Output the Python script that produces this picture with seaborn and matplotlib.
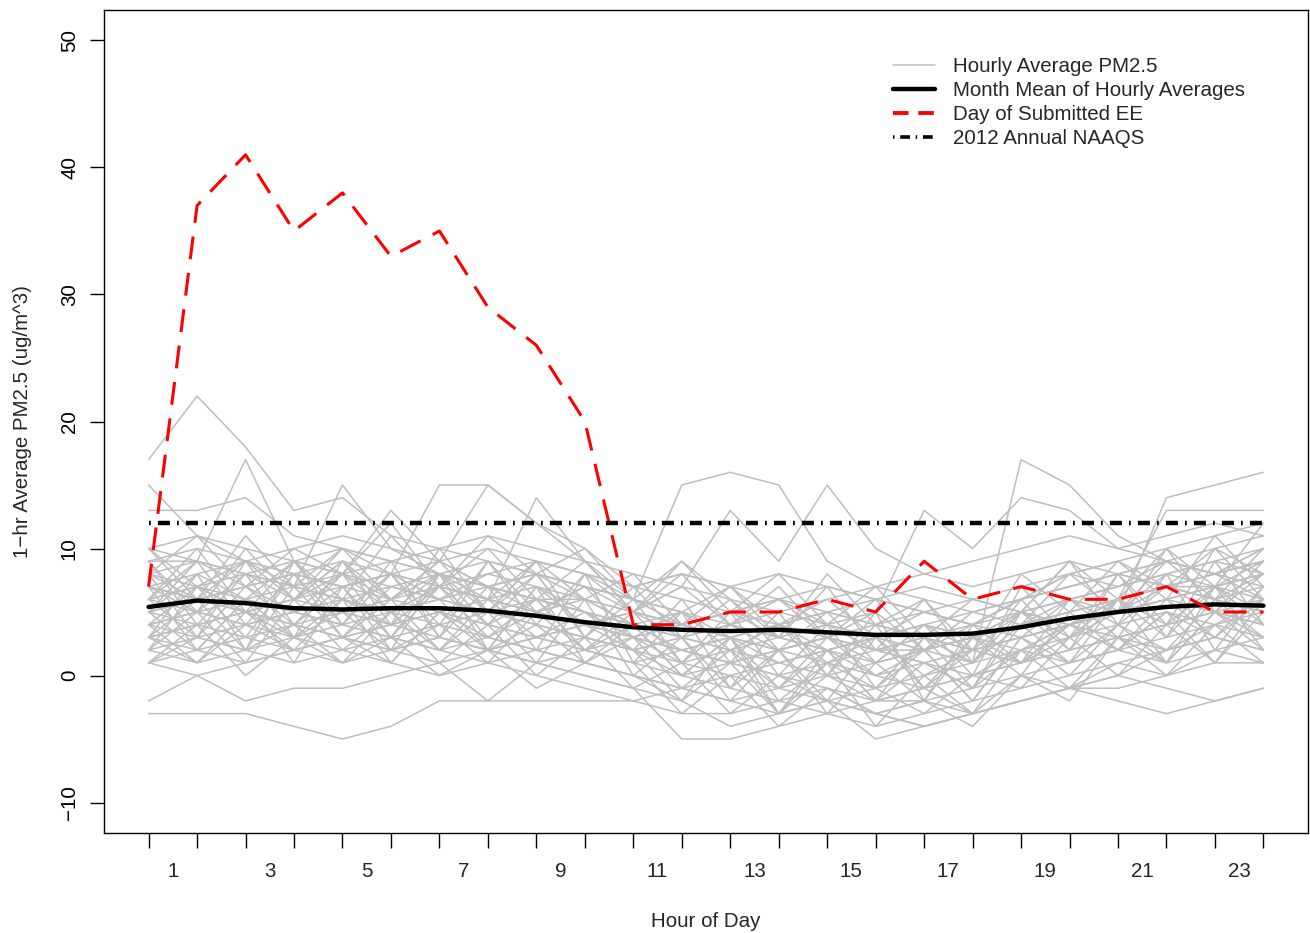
import numpy as np
import pandas as pd
import matplotlib
matplotlib.use('Agg')
import matplotlib.pyplot as plt
from matplotlib.lines import Line2D
import seaborn as sns

sns.set_style('white')
plt.rcParams['font.family'] = ['Liberation Sans', 'DejaVu Sans']

#hours of the day (0-23)
hours = list(range(24))

#hourly averages, one list per day
day_values = [
    [17, 22, 18, 13, 14, 11, 10, 9, 8, 7, 5, 4, 3, 4, 5, 4, 3, 4, 6, 7, 8, 9, 10, 11],
    [15, 11, 9, 8, 7, 8, 6, 5, 6, 5, 3, 2, 1, 2, 3, 2, 2, 3, 5, 6, 7, 8, 9, 8],
    [13, 13, 14, 11, 10, 9, 8, 7, 6, 6, 4, 3, 2, 3, 2, 1, 2, 3, 4, 5, 6, 7, 7, 8],
    [-3, -3, -3, -4, -5, -4, -2, -2, -2, -2, -2, -3, -3, -2, -1, -2, -2, -3, -2, -1, -1, 0, 1, 1],
    [-2, 0, -2, -1, -1, 0, 1, -2, 1, 0, -1, -2, -4, -3, -2, -3, -2, -1, 0, 1, 2, 1, 2, 3],
    [9, 9, 17, 9, 8, 7, 6, 8, 7, 6, 4, 5, 3, 4, 2, 3, 4, 3, 5, 4, 6, 7, 8, 6],
    [4, 5, 6, 7, 15, 10, 8, 7, 6, 5, 3, 2, 1, 0, 1, 0, -1, 0, 1, 2, 3, 4, 5, 4],
    [6, 7, 5, 6, 8, 13, 9, 15, 12, 9, 6, 4, 5, 6, 5, 4, 3, 2, 3, 4, 5, 6, 7, 6],
    [5, 6, 7, 8, 7, 8, 15, 15, 12, 10, 7, 8, 7, 6, 4, 3, 2, 3, 4, 5, 6, 7, 6, 7],
    [3, 4, 5, 4, 5, 6, 5, 6, 14, 9, 5, 3, 2, 1, 0, -1, 0, 1, 2, 3, 4, 5, 4, 5],
    [8, 9, 8, 7, 6, 5, 6, 7, 8, 7, 6, 15, 16, 15, 9, 7, 6, 5, 6, 7, 8, 9, 8, 9],
    [7, 6, 7, 8, 9, 8, 7, 6, 5, 4, 5, 7, 13, 9, 15, 10, 8, 7, 8, 9, 8, 7, 8, 10],
    [2, 3, 2, 3, 4, 3, 2, 3, 2, 1, 0, -1, -2, -1, 0, 1, 2, 1, 17, 15, 11, 9, 8, 9],
    [10, 9, 8, 9, 10, 9, 8, 7, 6, 5, 4, 3, 4, 5, 4, 5, 13, 10, 14, 13, 10, 9, 8, 7],
    [1, 2, 1, 2, 1, 2, 3, 2, 1, 0, -1, -5, -5, -4, -3, -4, -3, -2, -1, 0, 1, 2, 3, 2],
    [6, 5, 4, 5, 6, 5, 4, 5, 4, 3, 2, 1, 0, -1, -2, -5, -4, -3, -2, -1, 0, 2, 4, 6],
    [4, 3, 4, 3, 2, 3, 4, 3, 2, 3, 2, 0, -1, -2, -3, -2, -1, 0, 1, 3, 5, 14, 15, 16],
    [5, 4, 5, 6, 5, 4, 5, 4, 3, 4, 3, 2, 3, 2, 1, 2, 1, 0, 2, 4, 6, 13, 13, 13],
    [7, 8, 9, 8, 7, 6, 7, 8, 9, 8, 7, 6, 5, 6, 7, 6, 5, 6, 7, 8, 9, 10, 11, 12],
    [3, 2, 3, 4, 3, 2, 1, 2, 3, 4, 5, 4, 3, 4, 5, 6, 7, 6, 5, 4, 3, 4, 5, 6],
    [8, 7, 6, 5, 4, 5, 6, 5, 4, 3, 2, 3, 4, 3, 2, 3, 4, 5, 6, 7, 8, 7, 6, 5],
    [2, 1, 2, 1, 2, 1, 0, 1, 2, 1, 0, -1, -2, -3, -2, -3, -4, -3, -2, -1, -2, -3, -2, -1],
    [6, 7, 8, 7, 6, 7, 8, 9, 8, 7, 6, 5, 4, 3, 4, 3, 2, 3, 4, 5, 6, 7, 8, 9],
    [9, 10, 9, 10, 11, 10, 9, 10, 9, 8, 7, 8, 7, 8, 7, 6, 5, 4, 5, 6, 7, 8, 9, 10],
    [4, 5, 4, 5, 4, 3, 2, 1, 0, -1, -2, -1, 0, 1, 2, 3, 4, 3, 2, 1, 2, 3, 4, 3],
    [1, 0, 1, 2, 3, 4, 5, 4, 3, 2, 1, 2, 1, 0, -1, -3, -4, -3, -2, -1, 0, -1, -2, -1],
    [5, 6, 5, 4, 3, 4, 3, 2, 1, 2, 3, 4, 5, 4, 3, 2, 3, 2, 3, 4, 5, 6, 5, 4],
    [10, 11, 10, 9, 8, 9, 10, 11, 10, 9, 8, 7, 6, 5, 6, 7, 8, 9, 10, 11, 10, 11, 12, 11],
    [3, 4, 3, 2, 3, 2, 3, 2, 3, 2, 1, 0, 1, 2, 3, 2, 1, 2, 1, 2, 3, 2, 3, 2],
    [7, 6, 5, 6, 7, 8, 7, 6, 5, 6, 5, 4, 3, 2, 3, 4, 5, 4, 3, 4, 5, 6, 7, 8],
    [8, 3, 9, 4, 7, 2, 8, 5, 9, 3, 6, 1, 5, 0, 4, -1, 3, 1, 6, 2, 8, 3, 9, 4],
    [2, 7, 3, 8, 4, 9, 3, 7, 2, 8, 1, 5, -1, 4, 0, 5, -2, 4, 1, 6, 3, 8, 2, 7],
    [5, 9, 4, 8, 3, 7, 6, 2, 7, 4, 2, -2, 3, -3, 2, -2, 1, -1, 5, 9, 4, 10, 5, 9],
    [9, 5, 10, 6, 9, 4, 10, 5, 8, 3, 7, 3, 6, 2, 5, 1, 4, 0, 7, 3, 8, 4, 10, 6],
    [4, 1, 5, 2, 6, 1, 5, 2, 4, 1, 3, -1, 2, -3, 1, -4, 0, -3, 2, -1, 3, 0, 4, 1],
    [6, 10, 5, 9, 6, 11, 7, 10, 6, 9, 5, 8, 4, 7, 3, 6, 2, 5, 4, 8, 5, 9, 6, 10],
    [3, 6, 2, 7, 3, 6, 2, 5, 1, 6, 0, 3, -2, 2, -3, 1, -2, 3, 0, 5, 2, 6, 3, 7],
    [7, 2, 6, 1, 7, 3, 8, 2, 7, 1, 4, 0, 3, -1, 2, -2, 3, -1, 4, 1, 6, 1, 7, 2],
    [10, 6, 11, 7, 10, 6, 9, 5, 9, 6, 8, 4, 7, 3, 8, 4, 6, 2, 8, 5, 9, 6, 11, 7],
    [1, 4, 0, 3, 1, 5, 2, 6, 3, 5, 2, 6, 1, 5, 0, 4, -1, 3, 1, 4, 2, 5, 3, 6],
    [5, 8, 6, 9, 5, 8, 4, 9, 5, 7, 3, 5, 2, 4, 1, 3, 0, 2, 3, 6, 4, 7, 5, 8],
    [9, 4, 8, 3, 9, 5, 8, 4, 6, 2, 1, -3, 0, -4, -1, -3, -2, -4, 0, -2, 3, 1, 5, 3],
    [3, 8, 2, 9, 4, 8, 3, 9, 4, 8, 5, 9, 6, 3, 7, 2, 6, 1, 5, 2, 6, 3, 7, 4],
    [6, 3, 7, 4, 8, 3, 7, 4, 8, 3, 2, 3, -1, 2, -2, 3, -1, 2, 1, 4, 2, 5, 1, 6],
    [2, 5, 1, 6, 2, 5, 1, 4, 0, 3, -1, 1, -3, 0, -2, -1, -3, 0, -1, 3, 0, 4, 1, 5],
    [8, 11, 7, 10, 8, 12, 7, 11, 8, 10, 6, 9, 5, 8, 4, 7, 3, 6, 5, 9, 6, 10, 7, 12],
    [4, 7, 5, 3, 6, 4, 7, 3, 5, 4, 3, 1, 2, -1, 3, 0, 2, -2, 3, 1, 4, 2, 6, 3],
    [7, 5, 8, 6, 9, 6, 8, 6, 7, 5, 4, 2, 3, 1, 2, 0, 1, -1, 2, 4, 5, 7, 6, 8],
    [3, 1, 4, 2, 3, 1, 5, 3, 6, 2, 5, 1, 4, 2, 3, 1, 4, 2, 5, 3, 6, 4, 7, 5],
    [10, 7, 9, 6, 10, 8, 9, 7, 8, 6, 5, 7, 4, 6, 3, 5, 2, 4, 6, 8, 7, 9, 8, 10],
    [1, 3, 2, 4, 1, 3, 0, 2, -1, 1, 0, -2, 1, -3, 0, -2, -1, -3, 0, -1, 1, 0, 2, 1],
    [6, 9, 7, 5, 8, 6, 9, 7, 5, 7, 6, 4, 5, 3, 4, 2, 3, 1, 4, 6, 5, 8, 7, 9],
    [5, 2, 6, 3, 5, 2, 4, 1, 5, 2, 4, 0, 3, -2, 1, -1, 2, -2, 3, 0, 4, 1, 5, 2],
    [8, 6, 9, 7, 8, 5, 7, 6, 9, 8, 6, 5, 7, 4, 6, 3, 5, 4, 6, 8, 9, 7, 10, 8],
]

#month mean of hourly averages
month_mean = [5.4, 5.9, 5.7, 5.3, 5.2, 5.3, 5.3, 5.1, 4.7, 4.2, 3.8, 3.6, 3.5, 3.6,
              3.4, 3.2, 3.2, 3.3, 3.8, 4.5, 5.0, 5.4, 5.6, 5.5]

#day of submitted exceptional event
ee_day = [7, 37, 41, 35, 38, 33, 35, 29, 26, 20, 4, 4, 5, 5, 6, 5, 9, 6, 7, 6, 6, 7, 5, 5]

#2012 annual NAAQS
naaqs = 12

#long format for seaborn
gray_df = pd.DataFrame({
    'day': np.repeat(np.arange(len(day_values)), 24),
    'hour': hours * len(day_values),
    'pm': np.concatenate(day_values),
})

fs = 14.8
naaqs_dash = [0.4, 1.6, 2.7, 1.6]

fig = plt.figure(figsize=(13.1, 9.33), dpi=100)
ax = fig.add_axes([104/1310, 1 - 833/933, 1204/1310, 823/933])

sns.lineplot(data=gray_df, x='hour', y='pm', units='day', estimator=None,
             color='#BEBEBE', lw=1.1, ax=ax, legend=False)
sns.lineplot(x=hours, y=month_mean, color='black', lw=3.2, ax=ax)
sns.lineplot(x=hours, y=ee_day, color='red', lw=2.2, ax=ax)
ax.lines[-1].set_dashes([7.5, 4.5])
sns.lineplot(x=hours, y=[naaqs] * 24, color='black', lw=3.2, ax=ax)
ax.lines[-1].set_dashes(naaqs_dash)

ax.set_xlim(-0.92, 23.92)
ax.set_ylim(-12.4, 52.4)

#x axis: ticks at each hour, labels in between
ax.set_xticks(hours)
ax.set_xticklabels([])
ax.set_xticks([h + 0.5 for h in range(0, 23, 2)], minor=True)
ax.set_xticklabels([str(h + 1) for h in range(0, 23, 2)], minor=True)
ax.tick_params(axis='x', which='major', bottom=True, direction='out', length=11,
               width=1, colors='black')
ax.tick_params(axis='x', which='minor', bottom=True, length=0, pad=21, labelsize=fs)

ax.set_yticks(range(-10, 51, 10))
ax.tick_params(axis='y', left=True, direction='out', length=10, width=1, pad=8,
               labelsize=fs, colors='black')
for t in ax.get_yticklabels():
    t.set_rotation(90)
    t.set_va('center')

for s in ax.spines.values():
    s.set_color('black')
    s.set_linewidth(1)

ax.set_xlabel('Hour of Day', fontsize=fs, labelpad=22)
ax.set_ylabel('1\u2212hr Average PM2.5 (ug/m^3)', fontsize=fs, labelpad=20)

#legend
handles = [
    Line2D([], [], color='#BEBEBE', lw=1.1),
    Line2D([], [], color='black', lw=3.2),
    Line2D([], [], color='red', lw=2.8, dashes=[4, 2.5]),
    Line2D([], [], color='black', lw=2.6, dashes=naaqs_dash),
]
labels = ['Hourly Average PM2.5', 'Month Mean of Hourly Averages',
          'Day of Submitted EE', '2012 Annual NAAQS']
fig.legend(handles, labels, loc='upper left', bbox_to_anchor=(893/1310, 1 - 57/933),
           frameon=False, fontsize=fs, handlelength=2.05, handletextpad=0.85,
           labelspacing=0.24, borderpad=0, borderaxespad=0)

fig.savefig('out.png', dpi=100)
